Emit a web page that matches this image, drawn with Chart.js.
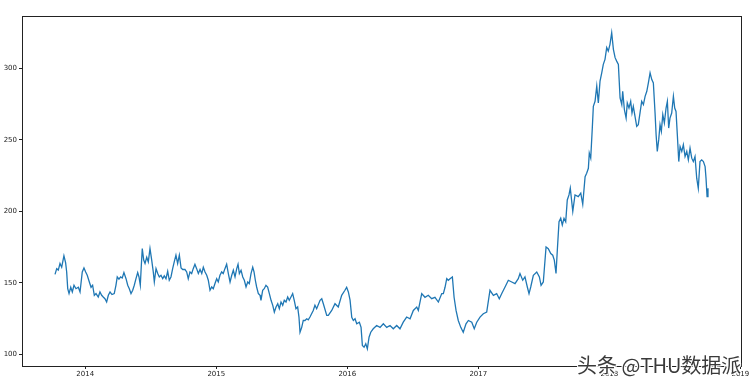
<!DOCTYPE html>
<html>
<head>
<meta charset="utf-8">
<script src="https://cdn.jsdelivr.net/npm/chart.js@4.4.1/dist/chart.umd.min.js"></script>
<style>
  html,body{margin:0;padding:0;background:#fff;}
  #wrap{position:relative;width:753px;height:385px;}
  #mark{position:absolute;left:577px;top:350px;font-family:"Noto Sans CJK SC","Noto Sans",sans-serif;font-size:20px;color:#3a3a3a;white-space:nowrap;
    text-shadow:-1px -1px 0 #fff,1px -1px 0 #fff,-1px 1px 0 #fff,1px 1px 0 #fff,0 0 2px #fff;}
</style>
</head>
<body>
<div id="wrap">
  <canvas id="stock" width="753" height="385"></canvas>
  <div id="mark">头条 @THU数据派</div>
</div>
<script>
// time as decimal year, price
const dates = [
  2013.769,2013.782,2013.794,2013.807,2013.820,2013.837,2013.850,2013.858,2013.866,2013.876,
  2013.889,2013.901,2013.914,2013.929,2013.947,2013.960,2013.977,2013.990,2014.003,2014.015,
  2014.031,2014.044,2014.056,2014.069,2014.082,2014.099,2014.112,2014.125,2014.137,2014.150,
  2014.163,2014.176,2014.189,2014.204,2014.221,2014.234,2014.244,2014.257,2014.270,2014.282,
  2014.295,2014.311,2014.324,2014.336,2014.349,2014.362,2014.374,2014.387,2014.400,2014.410,
  2014.420,2014.427,2014.435,2014.446,2014.456,2014.469,2014.481,2014.494,2014.507,2014.519,
  2014.527,2014.540,2014.553,2014.565,2014.578,2014.591,2014.603,2014.616,2014.629,2014.641,
  2014.654,2014.667,2014.679,2014.692,2014.705,2014.718,2014.731,2014.744,2014.761,2014.774,
  2014.786,2014.799,2014.812,2014.824,2014.837,2014.850,2014.863,2014.876,2014.889,2014.901,
  2014.914,2014.927,2014.939,2014.952,2014.965,2014.977,2014.990,2015.003,2015.015,2015.028,
  2015.041,2015.053,2015.066,2015.079,2015.092,2015.105,2015.118,2015.130,2015.143,2015.156,
  2015.166,2015.176,2015.189,2015.202,2015.214,2015.227,2015.240,2015.252,2015.265,2015.278,
  2015.288,2015.298,2015.308,2015.321,2015.334,2015.341,2015.354,2015.366,2015.379,2015.392,
  2015.405,2015.418,2015.431,2015.443,2015.456,2015.469,2015.481,2015.494,2015.507,2015.519,
  2015.532,2015.545,2015.557,2015.570,2015.583,2015.595,2015.608,2015.621,2015.631,2015.639,
  2015.652,2015.664,2015.677,2015.690,2015.702,2015.715,2015.740,2015.753,2015.766,2015.792,
  2015.805,2015.817,2015.843,2015.855,2015.881,2015.906,2015.931,2015.957,2015.982,2015.995,
  2016.008,2016.021,2016.034,2016.046,2016.059,2016.072,2016.092,2016.105,2016.115,2016.128,
  2016.141,2016.153,2016.166,2016.179,2016.198,2016.224,2016.250,2016.275,2016.301,2016.326,
  2016.351,2016.377,2016.402,2016.427,2016.453,2016.479,2016.504,2016.530,2016.542,2016.568,
  2016.593,2016.618,2016.644,2016.669,2016.695,2016.721,2016.733,2016.746,2016.759,2016.771,
  2016.784,2016.802,2016.815,2016.830,2016.847,2016.866,2016.885,2016.906,2016.924,2016.950,
  2016.969,2016.988,2017.013,2017.038,2017.064,2017.089,2017.115,2017.140,2017.160,2017.179,
  2017.204,2017.229,2017.255,2017.280,2017.305,2017.318,2017.339,2017.356,2017.374,2017.387,
  2017.400,2017.420,2017.446,2017.466,2017.479,2017.496,2017.517,2017.534,2017.553,2017.568,
  2017.580,2017.593,2017.603,2017.616,2017.629,2017.641,2017.654,2017.667,2017.679,2017.692,
  2017.702,2017.721,2017.738,2017.763,2017.782,2017.797,2017.815,2017.827,2017.840,2017.847,
  2017.858,2017.870,2017.878,2017.891,2017.904,2017.916,2017.929,2017.942,2017.954,2017.967,
  2017.980,2017.992,2018.005,2018.018,2018.031,2018.044,2018.056,2018.069,2018.082,2018.095,
  2018.102,2018.115,2018.128,2018.137,2018.150,2018.163,2018.173,2018.183,2018.196,2018.209,
  2018.221,2018.234,2018.247,2018.260,2018.273,2018.286,2018.298,2018.311,2018.324,2018.336,
  2018.349,2018.357,2018.366,2018.377,2018.387,2018.397,2018.408,2018.420,2018.433,2018.443,
  2018.453,2018.463,2018.476,2018.489,2018.499,2018.509,2018.519,2018.530,2018.540,2018.553,
  2018.565,2018.578,2018.591,2018.603,2018.616,2018.629,2018.641,2018.654,2018.667,2018.679,
  2018.692,2018.705,2018.718,2018.731,2018.738,2018.746,2018.753
];
const prices = [
  156,160,159,163.6,161,169,164,157.7,146,142.6,
  147,143.7,148.4,146,147,143.7,157.7,160.5,157.7,155.4,
  150.7,147,148.4,141.4,142.6,140.2,143.7,141.4,140.2,139,
  136.7,141.4,143.7,141.9,142.6,148.4,154.2,152.6,154.2,153.5,
  157.3,153,148.4,146,142.6,144.9,148.4,153,157.3,154.2,
  148.4,161,174,166,163.6,168,164.7,174,166,157.7,
  150.7,160,156.6,154.2,155.4,153,155,153,158.2,151.9,
  154.2,160,164.7,169.4,163.6,169.4,160.5,159.4,159.4,157.7,
  153,157.7,156.6,160,163.1,160,156.6,159.4,156.6,161,
  157.7,155.4,151.9,144.9,147.2,146,149.6,153,150.7,155.4,
  157.7,156.6,160,163.1,156.6,150.7,155.4,158.9,154.2,160,
  163.1,156.6,158.9,154.2,151.9,147.2,150.7,149.6,156.6,161,
  157.7,151.9,147.2,142.6,141.4,137.9,144.9,146,148.4,147.2,
  142.6,137.9,134.4,129.7,133.2,135.5,132,136.7,134.4,137.9,
  136.7,140.2,137.9,140.2,142.6,137.9,132,133.2,126.2,115.6,
  119,123.8,123.8,125,124.3,126.2,130.8,134.4,132,137.9,
  139,135.5,127.3,127.3,130.8,135.5,133.2,141.4,144.9,147,
  143.7,138,126,123.8,125,121.5,122.6,119,106.3,105.1,
  107.5,104,112.1,115.6,118,120.3,119,121.5,119,120.3,
  118,120.3,118,122.6,126.2,125,130.8,133.2,130.8,142.6,
  140,141.4,139,140,136.7,142.6,142.6,147,153,151.9,
  153,154.2,140,130.8,123.8,119,115.6,121.5,123.8,122.6,
  118,122.6,126.2,128.5,129.7,144.9,141.4,142.6,139,142.6,
  147.2,151.9,150.7,149.6,153,156.6,151.9,154.2,147.2,142.6,
  147.2,155.4,157.7,154.2,148.4,150.7,175.2,174,170.6,169.4,
  166,156.6,172.9,192.8,195.2,190.5,195.2,192.8,208,211.5,
  216.2,200,211.5,210.3,212.7,205,224.3,226.6,230.1,240.7,
  237.2,258.2,273.4,276.9,287.5,275.7,291,296.8,302.7,306.2,
  314.4,312,316.7,324.8,313.2,307.4,305,302.7,279.2,274.6,
  283.9,271,265.2,275.7,272.2,276.9,268.7,273.4,266.4,259.4,
  260.6,268.7,276.9,274.6,280.4,283.9,289.8,296.8,292.1,289.8,
  268.7,253.5,241.9,250.1,260.6,255.9,267.6,261.8,272.2,276.9,
  258.2,265.2,268.7,280.4,272.2,269.8,253.5,234.8,245.3,241.9,
  246.6,238.4,241.9,236,244.2,237.2,234.8,238.4,223.2,216.2,
  234.8,236,234.8,231.3,223.2,210.3,216.2
];
const yearTicks = [2014, 2015, 2016, 2017, 2018, 2019];
const priceTicks = [100, 150, 200, 250, 300];

const frame = {
  id: 'frame',
  afterDraw(chart){
    const {ctx, chartArea:a} = chart;
    ctx.save();
    ctx.strokeStyle = '#222';
    ctx.lineWidth = 1;
    ctx.strokeRect(Math.round(a.left)+0.5, Math.round(a.top)+0.5, Math.round(a.right-a.left), Math.round(a.bottom-a.top));
    ctx.restore();
  }
};

const tickFont = {family: 'DejaVu Sans', size: 7};

new Chart(document.getElementById('stock'), {
  type: 'line',
  data: {
    datasets: [{
      data: dates.map((d, i) => ({x: d, y: prices[i]})),
      borderColor: '#1f77b4',
      borderWidth: 1.3,
      pointRadius: 0,
      tension: 0,
      fill: false
    }]
  },
  options: {
    responsive: false,
    animation: false,
    devicePixelRatio: 1,
    layout: {padding: {left: 0, top: 16, right: 12, bottom: 0}},
    plugins: {legend: {display: false}, tooltip: {enabled: false}},
    scales: {
      x: {
        type: 'linear',
        min: 2013.517,
        max: 2019.005,
        afterFit: s => { s.height = 19; },
        afterBuildTicks: s => { s.ticks = yearTicks.map(v => ({value: v})); },
        grid: {display: true, drawOnChartArea: false, drawTicks: true, tickLength: 3, color: '#222'},
        border: {display: false},
        ticks: {autoSkip: false, maxRotation: 0, padding: 1, color: '#222', font: tickFont, callback: v => String(v)}
      },
      y: {
        min: 92,
        max: 336.5,
        afterFit: s => { s.width = 22; },
        afterBuildTicks: s => { s.ticks = priceTicks.map(v => ({value: v})); },
        grid: {display: true, drawOnChartArea: false, drawTicks: true, tickLength: 3, color: '#222'},
        border: {display: false},
        ticks: {padding: 2, color: '#222', font: tickFont}
      }
    }
  },
  plugins: [frame]
});
</script>
</body>
</html>
